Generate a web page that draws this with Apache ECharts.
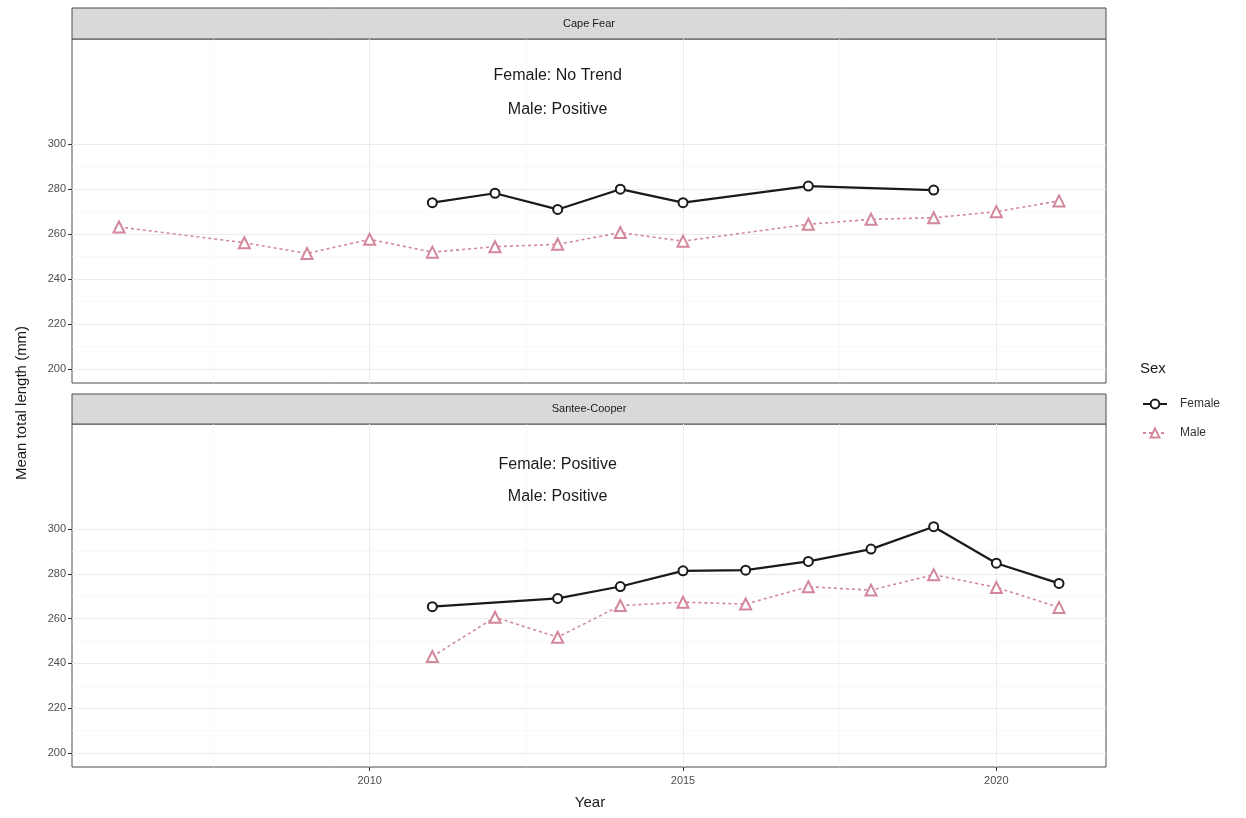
<!DOCTYPE html>
<html>
<head>
<meta charset="utf-8">
<script src="https://cdn.jsdelivr.net/npm/echarts@6/dist/echarts.min.js"></script>
<style>
html,body{margin:0;padding:0;background:#fff;}
#chart{width:1246px;height:818px;}
</style>
</head>
<body>
<div id="chart"></div>
<script>
// ---- data ----
const panels = ['Cape Fear', 'Santee-Cooper'];
const cfFemaleYears = [2011, 2012, 2013, 2014, 2015, 2017, 2019];
const cfFemale      = [274, 278.2, 271, 280, 274, 281.4, 279.6];
const cfMaleYears   = [2006, 2008, 2009, 2010, 2011, 2012, 2013, 2014, 2015, 2017, 2018, 2019, 2020, 2021];
const cfMale        = [263.2, 256.2, 251.4, 257.7, 252, 254.4, 255.5, 260.7, 256.9, 264.4, 266.6, 267.3, 270, 274.8];
const scFemaleYears = [2011, 2013, 2014, 2015, 2016, 2017, 2018, 2019, 2020, 2021];
const scFemale      = [265.3, 269, 274.3, 281.3, 281.6, 285.5, 291, 301, 284.7, 275.7];
const scMaleYears   = [2011, 2012, 2013, 2014, 2015, 2016, 2017, 2018, 2019, 2020, 2021];
const scMale        = [243.1, 260.6, 251.7, 265.8, 267.3, 266.5, 274.2, 272.7, 279.6, 273.9, 265];
const cfNotes = ['Female: No Trend', 'Male: Positive'];
const scNotes = ['Female: Positive', 'Male: Positive'];
const noteX = [2013, 2013];
const noteY = [330.7, 315.6];
const noteY2 = [328.9, 314.2];
const xTicks = [2010, 2015, 2020];
const xMinor = [2007.5, 2012.5, 2017.5];
const yTicks = [200, 220, 240, 260, 280, 300];
const yMinor = [210, 230, 250, 270, 290];
const xRange = [2005.25, 2021.75];
const yRange = [193.8, 346.8];

const zip = (xs, ys) => xs.map((x, i) => [x, ys[i]]);

const FONT = '"Liberation Sans", Arial, sans-serif';
const femaleColor = '#1a1a1a';
const maleColor = '#D3879B';

const grids = [
  {left: 72, top: 39, width: 1034, height: 344},
  {left: 72, top: 424, width: 1034, height: 343}
];

function mainX(gi) {
  return {
    type: 'value', gridIndex: gi, min: xRange[0], max: xRange[1],
    axisLine: {show: false},
    axisTick: {show: gi === 1, length: 4, lineStyle: {color: '#333', width: 1}, customValues: xTicks},
    axisLabel: {show: gi === 1, customValues: xTicks, formatter: v => String(v),
      color: '#4d4d4d', fontSize: 11, fontFamily: FONT, margin: 8},
    splitLine: {show: true, lineStyle: {color: '#EBEBEB', width: 1}}
  };
}
function minorX(gi) {
  return {
    type: 'value', gridIndex: gi, min: xRange[0], max: xRange[1], position: 'top',
    axisLine: {show: false},
    axisTick: {show: false, customValues: xMinor},
    axisLabel: {show: false, customValues: xMinor},
    splitLine: {show: true, lineStyle: {color: '#F5F5F5', width: 0.6}}
  };
}
function mainY(gi) {
  return {
    type: 'value', gridIndex: gi, min: yRange[0], max: yRange[1],
    axisLine: {show: false},
    axisTick: {show: true, length: 4, lineStyle: {color: '#333', width: 1}, customValues: yTicks},
    axisLabel: {customValues: yTicks, formatter: v => String(v),
      color: '#4d4d4d', fontSize: 11, fontFamily: FONT, margin: 6},
    splitLine: {show: true, lineStyle: {color: '#EBEBEB', width: 1}}
  };
}
function minorY(gi) {
  return {
    type: 'value', gridIndex: gi, min: yRange[0], max: yRange[1], position: 'right',
    axisLine: {show: false},
    axisTick: {show: false, customValues: yMinor},
    axisLabel: {show: false, customValues: yMinor},
    splitLine: {show: true, lineStyle: {color: '#F5F5F5', width: 0.6}}
  };
}

function femaleSeries(xi, yi, data) {
  return {
    name: 'Female', type: 'line', xAxisIndex: xi, yAxisIndex: yi, data: data,
    symbol: 'emptyCircle', symbolSize: 9, showAllSymbol: true,
    lineStyle: {color: femaleColor, width: 2.2},
    itemStyle: {color: femaleColor, borderColor: femaleColor, borderWidth: 1.3},
    emphasis: {disabled: true}, z: 4
  };
}
function maleSeries(xi, yi, data) {
  return {
    name: 'Male', type: 'line', xAxisIndex: xi, yAxisIndex: yi, data: data,
    symbol: 'emptyTriangle', symbolSize: 11, showAllSymbol: true,
    lineStyle: {color: maleColor, width: 1.6, type: [3, 3]},
    itemStyle: {color: maleColor, borderColor: maleColor, borderWidth: 1.3},
    emphasis: {disabled: true}, z: 3
  };
}
function noteSeries(xi, yi, texts, ys) {
  return {
    type: 'scatter', xAxisIndex: xi, yAxisIndex: yi, symbolSize: 1, silent: true,
    itemStyle: {color: 'rgba(0,0,0,0)', opacity: 1},
    emphasis: {disabled: true},
    data: texts.map((t, i) => ({value: [noteX[i], ys[i]], text: t})),
    label: {show: true, position: 'inside', formatter: p => p.data.text, opacity: 1,
      color: '#1a1a1a', textBorderWidth: 0, fontSize: 16, fontFamily: FONT}
  };
}

function strip(y, h, text) {
  return {
    type: 'group', children: [
      {type: 'rect', shape: {x: 72, y: y, width: 1034, height: h},
        style: {fill: '#D9D9D9', stroke: '#4d4d4d', lineWidth: 1}},
      {type: 'text', x: 589, y: y + h / 2, style: {text: text, fill: '#1a1a1a', font: '11px ' + FONT,
        align: 'center', verticalAlign: 'middle'}}
    ]
  };
}

const chart = echarts.init(document.getElementById('chart'), null, {renderer: 'canvas'});
chart.setOption({
  animation: false,
  backgroundColor: '#fff',
  grid: grids.map(g => Object.assign({show: true, borderColor: '#4d4d4d', borderWidth: 1, backgroundColor: 'transparent'}, g)),
  xAxis: [mainX(0), mainX(1), minorX(0), minorX(1)],
  yAxis: [mainY(0), mainY(1), minorY(0), minorY(1)],
  legend: {
    data: ['Female', 'Male'], orient: 'vertical', left: 1137, top: 393,
    itemWidth: 24, itemHeight: 11, itemGap: 17,
    textStyle: {color: '#333', fontSize: 12, fontFamily: FONT, padding: [0, 0, 0, 8]},
    selectedMode: false
  },
  graphic: [
    strip(8, 31, panels[0]),
    strip(394, 30, panels[1]),
    {type: 'text', x: 1140, y: 369, style: {text: 'Sex', fill: '#1a1a1a', font: '15px ' + FONT, verticalAlign: 'middle'}},
    {type: 'text', x: 22, y: 403, rotation: Math.PI / 2,
      style: {text: 'Mean total length (mm)', fill: '#1a1a1a', font: '15px ' + FONT, align: 'center', verticalAlign: 'middle'}},
    {type: 'text', x: 590, y: 803, style: {text: 'Year', fill: '#1a1a1a', font: '15px ' + FONT, align: 'center', verticalAlign: 'middle'}}
  ],
  series: [
    femaleSeries(0, 0, zip(cfFemaleYears, cfFemale)),
    maleSeries(0, 0, zip(cfMaleYears, cfMale)),
    femaleSeries(1, 1, zip(scFemaleYears, scFemale)),
    maleSeries(1, 1, zip(scMaleYears, scMale)),
    noteSeries(0, 0, cfNotes, noteY),
    noteSeries(1, 1, scNotes, noteY2)
  ]
});
</script>
</body>
</html>
